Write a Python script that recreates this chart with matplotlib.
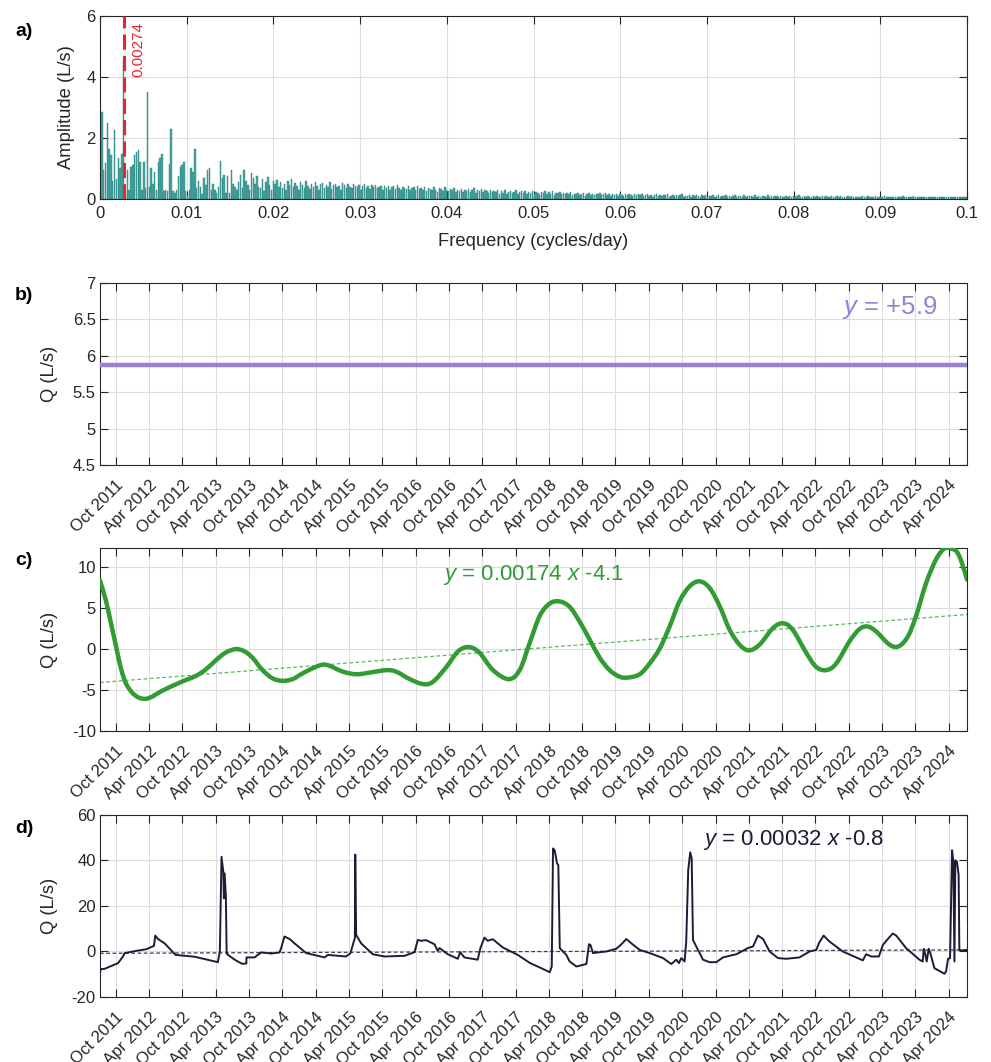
import numpy as np
import matplotlib
matplotlib.use('Agg')
import matplotlib.pyplot as plt
import matplotlib.dates as mdates
from matplotlib.path import Path
from matplotlib.patches import PathPatch

plt.rcParams['font.family'] = ['Liberation Sans', 'DejaVu Sans']
plt.rcParams['mathtext.fontset'] = 'custom'
plt.rcParams['mathtext.rm'] = 'Liberation Sans'
plt.rcParams['mathtext.it'] = 'Liberation Sans:italic'
plt.rcParams['axes.unicode_minus'] = False

# ---------------- data ----------------
N_DAYS = 4752
START = np.datetime64('2011-07-07')
PEAK_FREQ = 0.00274

# spectrum amplitudes (L/s), bins k = 1, 2, ... (freq = k / N_DAYS)
amplitude = [
    2.84, 0.95, 1.17, 2.50, 1.65, 1.45, 0.60, 2.27, 0.65, 1.33,
    1.00, 1.48, 4.60, 0.25, 0.95, 0.30, 1.05, 1.10, 1.45, 1.55,
    1.62, 1.20, 0.30, 1.20, 0.35, 3.50, 0.40, 1.00, 0.50, 0.90,
    0.30, 1.20, 1.35, 1.48, 0.25, 0.30, 0.25, 1.15, 2.30, 0.25,
    0.20, 0.30, 0.75, 1.05, 1.10, 1.20, 0.25, 0.10, 0.30, 1.00,
    0.90, 1.63, 0.35, 0.60, 0.40, 0.15, 0.70, 0.45, 0.95, 1.00,
    0.30, 0.50, 0.30, 0.20, 0.40, 1.25, 0.70, 0.80, 0.20, 0.75,
    0.20, 0.95, 0.50, 0.40, 0.30,
    0.55, 0.80, 0.35, 0.95, 0.60, 0.45, 0.30, 0.85, 0.70, 0.50, 0.75, 0.40, 0.35, 0.65, 0.25, 0.55, 0.72, 0.45, 0.30, 0.60,
    0.50, 0.62, 0.40, 0.55, 0.35, 0.48, 0.30, 0.58, 0.45, 0.64, 0.38, 0.52, 0.42, 0.30, 0.55, 0.47, 0.36, 0.60, 0.44, 0.33,
    0.50, 0.38, 0.55, 0.42, 0.30, 0.48, 0.52, 0.35, 0.45, 0.40, 0.55, 0.33, 0.47, 0.50, 0.38, 0.43, 0.30, 0.52, 0.45, 0.36,
    0.48, 0.40, 0.35, 0.50, 0.44, 0.38, 0.46, 0.30, 0.42, 0.49, 0.36, 0.41, 0.33, 0.45, 0.38, 0.47, 0.35, 0.40, 0.43, 0.31,
    0.42, 0.36, 0.44, 0.30, 0.38, 0.41, 0.33, 0.45, 0.35, 0.28, 0.40, 0.37, 0.32, 0.43, 0.29, 0.36, 0.39, 0.31, 0.42, 0.34,
    0.37, 0.30, 0.40, 0.26, 0.35, 0.33, 0.28, 0.38, 0.31, 0.24, 0.36, 0.32, 0.27, 0.39, 0.30, 0.25, 0.34, 0.29, 0.36, 0.22,
    0.31, 0.27, 0.34, 0.22, 0.30, 0.26, 0.33, 0.24, 0.29, 0.35, 0.21, 0.28, 0.25, 0.32, 0.23, 0.30, 0.26, 0.20, 0.29, 0.24,
    0.27, 0.22, 0.30, 0.18, 0.25, 0.21, 0.28, 0.16, 0.24, 0.26, 0.19, 0.23, 0.29, 0.17, 0.22, 0.25, 0.20, 0.27, 0.18, 0.23,
    0.21, 0.26, 0.17, 0.23, 0.19, 0.14, 0.24, 0.20, 0.27, 0.16, 0.22, 0.18, 0.25, 0.13, 0.21, 0.19, 0.23, 0.15, 0.20, 0.17,
    0.19, 0.15, 0.22, 0.12, 0.18, 0.16, 0.21, 0.13, 0.17, 0.20, 0.11, 0.16, 0.19, 0.14, 0.18, 0.12, 0.17, 0.15, 0.20, 0.13,
    0.16, 0.19, 0.12, 0.15, 0.10, 0.17, 0.14, 0.18, 0.11, 0.15, 0.13, 0.09, 0.16, 0.12, 0.18, 0.14, 0.10, 0.15, 0.13, 0.17,
    0.12, 0.15, 0.09, 0.13, 0.16, 0.10, 0.14, 0.08, 0.12, 0.15, 0.11, 0.13, 0.09, 0.14, 0.12, 0.16, 0.08, 0.11, 0.13, 0.10,
    0.13, 0.09, 0.12, 0.15, 0.07, 0.11, 0.10, 0.14, 0.08, 0.12, 0.09, 0.13, 0.11, 0.06, 0.12, 0.10, 0.14, 0.08, 0.11, 0.09,
    0.12, 0.08, 0.10, 0.13, 0.07, 0.11, 0.09, 0.12, 0.06, 0.10, 0.08, 0.11, 0.13, 0.07, 0.09, 0.11, 0.08, 0.12, 0.06, 0.10,
    0.09, 0.11, 0.07, 0.12, 0.08, 0.10, 0.06, 0.11, 0.09, 0.07, 0.12, 0.08, 0.10, 0.05, 0.09, 0.11, 0.07, 0.10, 0.08, 0.06,
    0.10, 0.08, 0.11, 0.06, 0.09, 0.07, 0.10, 0.12, 0.05, 0.08, 0.09, 0.07, 0.11, 0.06, 0.08, 0.10, 0.07, 0.09, 0.05, 0.08,
    0.09, 0.06, 0.10, 0.08, 0.07, 0.11, 0.05, 0.08, 0.09, 0.06, 0.10, 0.07, 0.08, 0.05, 0.09, 0.07, 0.10, 0.06, 0.08, 0.07,
    0.08, 0.06, 0.09, 0.05, 0.07, 0.10, 0.06, 0.08, 0.07, 0.09, 0.05, 0.08, 0.06, 0.07, 0.09, 0.05, 0.08, 0.06, 0.07, 0.08,
    0.06, 0.08, 0.05, 0.07, 0.09, 0.06, 0.07, 0.05, 0.08, 0.06, 0.09, 0.05, 0.07, 0.06, 0.08, 0.05, 0.07, 0.06, 0.08, 0.05,
    0.07, 0.06, 0.08, 0.05, 0.06, 0.07, 0.05, 0.08, 0.06, 0.05, 0.07, 0.06, 0.05, 0.08, 0.06, 0.05, 0.07, 0.06, 0.05, 0.06,
]

# panel b: constant component
b_const = 5.87
b_label = '+5.9'

# panel c: low-frequency component (days since start, L/s)
c_days = [0, 33, 60, 88, 115, 142, 179, 215, 252, 288, 325, 398, 471, 526, 581, 635, 690, 745,
          791, 836, 891, 946, 1000, 1055, 1110, 1183, 1240, 1333, 1406, 1479, 1570, 1625, 1698,
          1771, 1826, 1899, 1963, 2023, 2081, 2154, 2240, 2300, 2355, 2410, 2465, 2519, 2574,
          2629, 2684, 2739, 2793, 2848, 2894, 2958, 3012, 3067, 3122, 3177, 3232, 3286, 3341,
          3396, 3451, 3505, 3556, 3615, 3688, 3743, 3797, 3871, 3925, 3980, 4035, 4108, 4163,
          4208, 4254, 4327, 4378, 4428, 4473, 4528, 4583, 4628, 4656, 4692, 4720, 4752]
c_vals = [8.3, 5.8, 3.1, 0.3, -2.4, -4.2, -5.4, -5.96, -6.08, -5.8, -5.3, -4.5, -3.8, -3.3, -2.5,
          -1.4, -0.45, -0.04, -0.3, -1.1, -2.6, -3.6, -3.9, -3.7, -3.0, -2.2, -1.95, -2.8, -3.1,
          -2.9, -2.6, -2.8, -3.7, -4.3, -4.0, -2.2, -0.3, 0.2, -0.5, -2.6, -3.7, -2.6, 0.7, 4.0,
          5.5, 5.75, 5.1, 3.3, 1.1, -1.1, -2.6, -3.4, -3.5, -3.1, -1.8, 0.0, 2.7, 5.8, 7.6, 8.2,
          7.4, 5.2, 2.3, 0.5, -0.2, 0.5, 2.5, 3.1, 2.3, -0.5, -2.2, -2.6, -1.8, 0.9, 2.4, 2.7,
          2.1, 0.5, 0.3, 1.5, 4.0, 8.0, 10.9, 12.2, 12.2, 11.9, 10.7, 8.4]
c_slope, c_icpt = 0.00174, -4.1

# panel d: residual component (days since start, L/s)
d_days = [0, 3, 26, 99, 126, 135, 208, 254, 296, 303,
          318, 354, 414, 519, 646, 657, 666, 676, 679, 683,
          690, 694, 697, 738, 778, 802, 803, 847, 884, 938,
          984, 993, 1011, 1039, 1066, 1130, 1231, 1249, 1349, 1373,
          1391, 1397, 1399, 1404, 1431, 1495, 1559, 1669, 1724, 1742,
          1760, 1787, 1833, 1851, 1861, 1906, 1961, 1974, 1997, 2070,
          2085, 2107, 2125, 2153, 2207, 2290, 2355, 2410, 2465, 2476,
          2483, 2492, 2505, 2512, 2520, 2529, 2556, 2574, 2611, 2666,
          2680, 2688, 2702, 2739, 2775, 2830, 2858, 2885, 2912, 2958,
          3013, 3086, 3131, 3159, 3173, 3186, 3204, 3213, 3224, 3235,
          3243, 3250, 3268, 3305, 3341, 3378, 3414, 3488, 3551, 3579,
          3606, 3634, 3670, 3716, 3761, 3834, 3889, 3926, 3940, 3966,
          3998, 4071, 4181, 4199, 4227, 4269, 4291, 4318, 4345, 4364,
          4418, 4491, 4509, 4515, 4524, 4531, 4542, 4551, 4573, 4628,
          4637, 4648, 4659, 4670, 4677, 4683, 4688, 4697, 4706, 4710,
          4728, 4752]
d_vals = [-9.8, -7.8, -7.6, -5.1, -2.2, -0.7, 0.4, 1.0, 2.5, 7.0,
          5.5, 3.6, -1.5, -2.3, -4.7, 0.0, 41.6, 35.0, 23.4, 34.3,
          24.0, 0.0, -1.2, -3.6, -5.4, -5.3, -2.6, -2.6, -0.4, -0.9,
          -0.4, 1.5, 6.6, 5.5, 3.6, -0.7, -2.6, -1.5, -2.2, -0.7,
          4.4, 5.8, 42.6, 7.3, 3.6, -1.2, -2.2, -1.9, -0.3, 5.1,
          4.7, 5.0, 3.2, 0.3, 1.5, -1.2, -3.2, -0.3, -2.6, -3.6,
          1.5, 6.1, 4.7, 5.4, 1.8, -1.5, -5.0, -7.0, -9.1, -6.6,
          45.3, 44.5, 38.7, 38.0, 1.5, 0.7, -1.5, -4.4, -6.6, -5.5,
          3.2, 2.9, -0.7, -0.3, 0.0, 1.2, 3.2, 5.5, 3.6, 0.7,
          -0.7, -2.9, -5.5, -3.6, -5.1, -2.9, -4.4, 4.4, 35.8, 43.6,
          40.9, 5.1, 2.2, -3.6, -4.7, -4.7, -2.6, -1.2, 1.5, 2.2,
          7.0, 5.5, 0.0, -2.9, -3.2, -2.6, 0.0, 0.7, 3.6, 7.0,
          4.4, 0.0, -3.9, -1.2, -2.2, -2.2, 2.9, 5.5, 7.9, 7.0,
          1.5, -3.6, -4.4, 1.2, -1.5, -4.4, 1.2, -0.7, -7.3, -9.8,
          -8.8, -3.2, -2.9, 44.5, 39.4, -4.4, 40.1, 39.4, 33.6, 0.7,
          0.4, 0.7]
d_slope, d_icpt = 0.00032, -0.8

# ---------------- styling helpers ----------------
AX_COL = '#262626'
GRID_COL = '#dddddd'
C_PURPLE = '#9a80d2'
C_GREEN = '#339b33'
C_GREEN_L = '#5cb85c'
C_NAVY = '#1c1c38'


def style(ax):
    ax.tick_params(direction='in', length=6, width=0.8, color=AX_COL,
                   labelsize=12, labelcolor=AX_COL, top=True, right=True)
    ax.tick_params(axis='y', pad=3)
    ax.tick_params(axis='x', pad=5)
    ax.grid(True, color=GRID_COL, lw=0.8)
    ax.set_axisbelow(True)
    for s in ax.spines.values():
        s.set_color(AX_COL)
        s.set_linewidth(0.8)


def to_dates(days):
    return mdates.date2num(START + np.asarray(days).astype('timedelta64[D]'))


def smooth_path(x, y):
    """Smooth (Bezier) path passing through the given points."""
    P = np.column_stack([x, y]).astype(float)
    n = len(P)
    verts = [P[0]]
    codes = [Path.MOVETO]
    for i in range(n - 1):
        p0 = P[i - 1] if i > 0 else P[i]
        p1, p2 = P[i], P[i + 1]
        p3 = P[i + 2] if i + 2 < n else P[i + 1]
        verts += [p1 + (p2 - p0) / 6.0, p2 - (p3 - p1) / 6.0, p2]
        codes += [Path.CURVE4] * 3
    return Path(verts, codes)


tick_dates = []
for yr in range(2011, 2025):
    for mo in (4, 10):
        d = np.datetime64(f'{yr}-{mo:02d}-01')
        if np.datetime64('2011-10-01') <= d <= np.datetime64('2024-04-01'):
            tick_dates.append(d)
tick_pos = mdates.date2num(np.array(tick_dates))
tick_lab = [d.astype(object).strftime('%b %Y') for d in tick_dates]
x0, x1 = to_dates([0, N_DAYS])


def date_axis(ax):
    ax.set_xlim(x0, x1)
    ax.set_xticks(tick_pos)
    ax.set_xticklabels(tick_lab, rotation=45, ha='right', va='top',
                       rotation_mode='anchor')
    ax.tick_params(axis='x', pad=9)
    ax.yaxis.set_label_coords(-0.0484, 0.5)


fig = plt.figure(figsize=(9.91, 10.62), dpi=100)
L, W = 0.1009, 0.8749
axa = fig.add_axes([L, 0.81262, W, 0.17232])
axb = fig.add_axes([L, 0.56215, W, 0.17137])
axc = fig.add_axes([L, 0.31168, W, 0.17231])
axd = fig.add_axes([L, 0.06121, W, 0.17137])
for ax in (axa, axb, axc, axd):
    style(ax)

# ---- a) spectrum ----
freq = np.arange(1, len(amplitude) + 1) / N_DAYS
axa.bar(freq, amplitude, width=0.8 / N_DAYS, color='#47a6a2',
        edgecolor='#2d7e7a', linewidth=0.3, zorder=2)
axa.axvline(PEAK_FREQ, color='#e8262a', lw=2.2, ls=(0, (5, 2)), zorder=3)
axa.text(PEAK_FREQ + 0.0017, 5.8, f'{PEAK_FREQ:.5f}', rotation=90, color='#e8262a',
         fontsize=11, ha='center', va='top')
axa.set_xlim(0, 0.1)
axa.set_ylim(0, 6)
xt = np.round(np.arange(0, 0.1001, 0.01), 2)
axa.set_xticks(xt)
axa.set_xticklabels(['0'] + [f'{v:g}' for v in xt[1:]])
axa.set_yticks([0, 2, 4, 6])
axa.set_xlabel('Frequency (cycles/day)', fontsize=13.2, color=AX_COL, labelpad=9)
axa.set_ylabel('Amplitude (L/s)', fontsize=13.2, color=AX_COL)
axa.yaxis.set_label_coords(-0.0288, 0.5)

# ---- b) constant ----
axb.plot([x0, x1], [b_const, b_const], color=C_PURPLE, lw=3.2, zorder=3)
axb.set_ylim(4.5, 7)
axb.set_yticks([4.5, 5, 5.5, 6, 6.5, 7])
axb.set_yticklabels(['4.5', '5', '5.5', '6', '6.5', '7'])
axb.set_ylabel('Q (L/s)', fontsize=13.2, color=AX_COL)
date_axis(axb)
axb.text(0.8558, 0.863, r'$\mathit{y}$ = ' + b_label, transform=axb.transAxes,
         color=C_PURPLE, fontsize=18.5, ha='left', va='center')

# ---- c) low-frequency ----
cx = to_dates(c_days)
axc.add_patch(PathPatch(smooth_path(cx, c_vals), fill=False, edgecolor=C_GREEN,
                        lw=3.2, zorder=3, capstyle='round', joinstyle='round'))
tr = np.array([0, N_DAYS])
axc.plot(to_dates(tr), c_slope * tr + c_icpt, color=C_GREEN_L, lw=0.9,
         ls=(0, (3, 2)), zorder=2)
axc.set_ylim(-10, 12.25)
axc.set_yticks([-10, -5, 0, 5, 10])
axc.set_ylabel('Q (L/s)', fontsize=13.2, color=AX_COL)
date_axis(axc)
axc.text(0.3956, 0.852, r'$\mathit{y}$ = ' + f'{c_slope:.5f} ' + r'$\mathit{x}$ ' + f'{c_icpt:g}',
         transform=axc.transAxes, color=C_GREEN, fontsize=16, ha='left', va='center')

# ---- d) residual ----
dx = to_dates(d_days)
axd.plot(dx, d_vals, color=C_NAVY, lw=1.4, zorder=3)
axd.plot(to_dates(tr), d_slope * tr + d_icpt, color='#3c3c55', lw=0.9,
         ls=(0, (3, 2)), zorder=2)
axd.set_ylim(-20, 60)
axd.set_yticks([-20, 0, 20, 40, 60])
axd.set_ylabel('Q (L/s)', fontsize=13.2, color=AX_COL)
date_axis(axd)
axd.text(0.6955, 0.863, r'$\mathit{y}$ = ' + f'{d_slope:.5f} ' + r'$\mathit{x}$ ' + f'{d_icpt:g}',
         transform=axd.transAxes, color=C_NAVY, fontsize=16, ha='left', va='center')

# panel letters
for lab, yy in (('a)', 0.9708), ('b)', 0.7222), ('c)', 0.4718), ('d)', 0.2203)):
    fig.text(0.0151, yy, lab, fontsize=14, fontweight='bold', ha='left', va='center')

fig.savefig('out.png', dpi=100)
